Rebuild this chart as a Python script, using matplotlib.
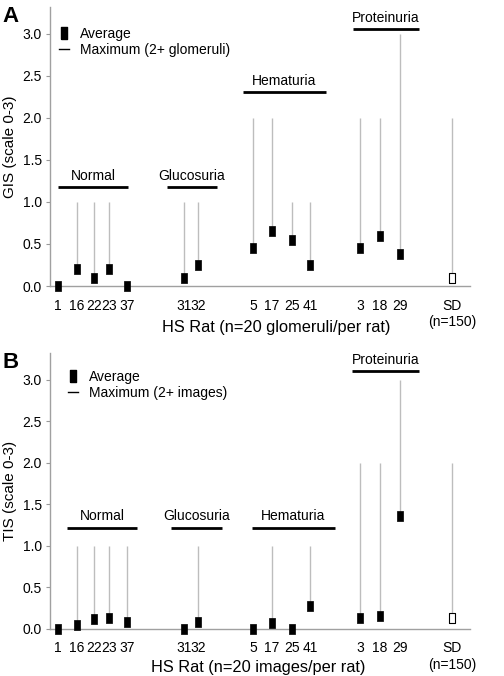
import matplotlib.pyplot as plt
from matplotlib.lines import Line2D

plt.rcParams['font.family'] = ['Liberation Sans', 'DejaVu Sans']

rats = ['1', '16', '22', '23', '37', '31', '32', '5', '17', '25', '41', '3', '18', '29', 'SD\n(n=150)']
# position of each rat along the axis (layout only)
xpos = [8, 27, 44, 59, 77, 134, 148, 203, 222, 242, 260, 310, 330, 350, 402]

# panel A: glomerular injury score
gis_avg = [0.0, 0.2, 0.1, 0.2, 0.0, 0.1, 0.25, 0.45, 0.65, 0.55, 0.25, 0.45, 0.6, 0.38, 0.1]
gis_max = [None, 1.0, 1.0, 1.0, None, 1.0, 1.0, 2.0, 2.0, 1.0, 1.0, 2.0, 2.0, 3.0, 2.0]

# panel B: tubulointerstitial score
tis_avg = [0.0, 0.05, 0.12, 0.13, 0.08, 0.0, 0.08, 0.0, 0.07, 0.0, 0.28, 0.13, 0.16, 1.36, 0.13]
tis_max = [None, 1.0, 1.0, 1.0, 1.0, None, 1.0, None, 1.0, None, 1.0, 2.0, 2.0, 3.0, 2.0]

groups = ['Normal', 'Glucosuria', 'Hematuria', 'Proteinuria']
# group bars: (x start, x end, height) per panel
groups_a = [(8, 78, 1.18), (117, 167, 1.18), (193, 276, 2.31), (303, 369, 3.06)]
groups_b = [(17, 87, 1.22), (121, 172, 1.22), (202, 285, 1.22), (302, 369, 3.1)]

box = [(-0.29, -0.5), (0.29, -0.5), (0.29, 0.5), (-0.29, 0.5), (-0.29, -0.5)]

fig = plt.figure(figsize=(5.04, 6.76), dpi=100)
ax_a = fig.add_axes([50/504, 1-286/676, 420/504, 279/676])
ax_b = fig.add_axes([50/504, 1-629/676, 420/504, 276/676])


def draw(ax, avg, mx, grp, ylab, xlab, maxlab, letter, leg_xy, xlab_xy):
    for x, a, m in zip(xpos, avg, mx):
        if m is not None:
            ax.vlines(x, a, m, color='#bdbdbd', lw=1.0, zorder=1)
    ax.plot(xpos[:-1], avg[:-1], ls='none', marker=box, ms=6.5, mfc='black',
            mec='black', mew=0.5, clip_on=False, zorder=3)
    ax.plot(xpos[-1:], avg[-1:], ls='none', marker=box, ms=6.5, mfc='white',
            mec='black', mew=0.8, clip_on=False, zorder=3)
    for name, (x0, x1, h) in zip(groups, grp):
        ax.plot([x0, x1], [h, h], color='black', lw=2, solid_capstyle='butt')
        ax.text((x0 + x1) / 2, h + 0.05, name, ha='center', va='bottom', fontsize=10)
    ax.set_xlim(0, 420)
    ax.set_ylim(0, 3.32)
    ax.set_yticks([0, 0.5, 1.0, 1.5, 2.0, 2.5, 3.0])
    ax.set_yticklabels(['0.0', '0.5', '1.0', '1.5', '2.0', '2.5', '3.0'])
    ax.set_xticks(xpos)
    ax.set_xticklabels(rats)
    ax.tick_params(axis='x', length=0, pad=9, labelsize=10)
    ax.tick_params(axis='y', length=3, color='#999999', labelsize=10, pad=3)
    for s in ['top', 'right']:
        ax.spines[s].set_visible(False)
    for s in ['left', 'bottom']:
        ax.spines[s].set_color('#a0a0a0')
        ax.spines[s].set_linewidth(1.0)
    ax.set_ylabel(ylab, fontsize=11, labelpad=4)
    ax.set_xlabel(xlab, fontsize=11.8, va='center')
    ax.xaxis.set_label_coords(*xlab_xy)
    handles = [Line2D([], [], ls='none', marker=box, ms=8.5, mfc='black', mec='black'),
               Line2D([], [], color='black', lw=1)]
    ax.legend(handles, ['Average', maxlab], loc='upper left', bbox_to_anchor=leg_xy,
              frameon=False, fontsize=10, handlelength=0.7, handletextpad=0.8,
              labelspacing=0.2, borderpad=0, borderaxespad=0)
    fig.text(0.005, ax.get_position().y1 + 0.002, letter, fontsize=16, weight='bold',
             va='top', ha='left')


draw(ax_a, gis_avg, gis_max, groups_a, 'GIS (scale 0-3)',
     'HS Rat (n=20 glomeruli/per rat)', 'Maximum (2+ glomeruli)', 'A',
     (0.021, 0.93), (0.538, -0.147))
draw(ax_b, tis_avg, tis_max, groups_b, 'TIS (scale 0-3)',
     'HS Rat (n=20 images/per rat)', 'Maximum (2+ images)', 'B',
     (0.043, 0.94), (0.495, -0.141))

fig.savefig('out.png', dpi=100)
